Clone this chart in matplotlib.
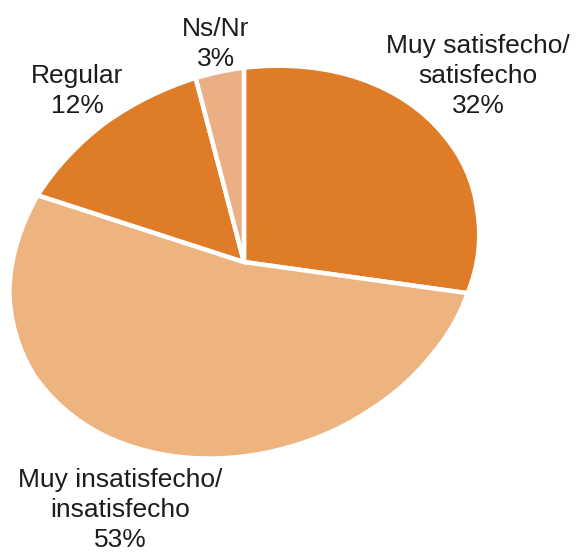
import numpy as np
import matplotlib.pyplot as plt
from matplotlib.transforms import Affine2D, Transform

# Data
labels = ['Muy satisfecho/\nsatisfecho\n32%', 'Muy insatisfecho/\ninsatisfecho\n53%',
          'Regular\n12%', 'Ns/Nr\n3%']
values = [32, 53, 12, 3]
colors = ['#DF7C28', '#EDB47F', '#DF7C28', '#EAAF84']

plt.rcParams['font.family'] = ['Liberation Sans Narrow', 'Liberation Sans', 'DejaVu Sans']


class AngleWarp(Transform):
    # small angular warp, mimics the perspective look of the original pie
    input_dims = output_dims = 2

    def __init__(self, start, amp_c, amp_s):
        super().__init__()
        self.start = np.radians(start)
        self.amp_c = np.radians(amp_c)
        self.amp_s = np.radians(amp_s)

    def transform_non_affine(self, xy):
        xy = np.asarray(xy, dtype=float)
        r = np.hypot(xy[:, 0], xy[:, 1])
        phi = np.arctan2(xy[:, 1], xy[:, 0])
        u = phi - self.start
        phi = phi + self.amp_c * (1 - np.cos(u)) + self.amp_s * np.sin(u)
        return np.column_stack([r * np.cos(phi), r * np.sin(phi)])


W, H = 576, 557
fig = plt.figure(figsize=(W / 100, H / 100), dpi=100)
ax = fig.add_axes([0, 0, 1, 1])

# ellipse shape of the pie (pixels), tilted a bit
cx, cy = 244, H - 262
a, b, tilt = 240, 190, 20

# start angle so the first edge points straight up after the squash + tilt
t = np.radians(90 - tilt)
start = np.degrees(np.arctan2(np.sin(t) / b, np.cos(t) / a))

wedges, _ = ax.pie(values, colors=colors, startangle=start, counterclock=False,
                   radius=1, center=(0, 0),
                   wedgeprops=dict(edgecolor='white', linewidth=3.2))

tr = (AngleWarp(start, 8.4, 5.0)
      + Affine2D().scale(a, b).rotate_deg(tilt).translate(cx, cy)
      + ax.transData)
for w in wedges:
    w.set_transform(tr)

ax.set_xlim(0, W)
ax.set_ylim(0, H)
ax.set_aspect('auto')
ax.axis('off')

# labels (pixel positions)
label_pos = [(478, 76), (120, 510), (77, 91), (216, 44)]
for lab, (x, y) in zip(labels, label_pos):
    ax.text(x, H - y, lab, ha='center', va='center', fontsize=19,
            color='#1c1c1c', linespacing=1.32)

fig.savefig('out.png', dpi=100)
